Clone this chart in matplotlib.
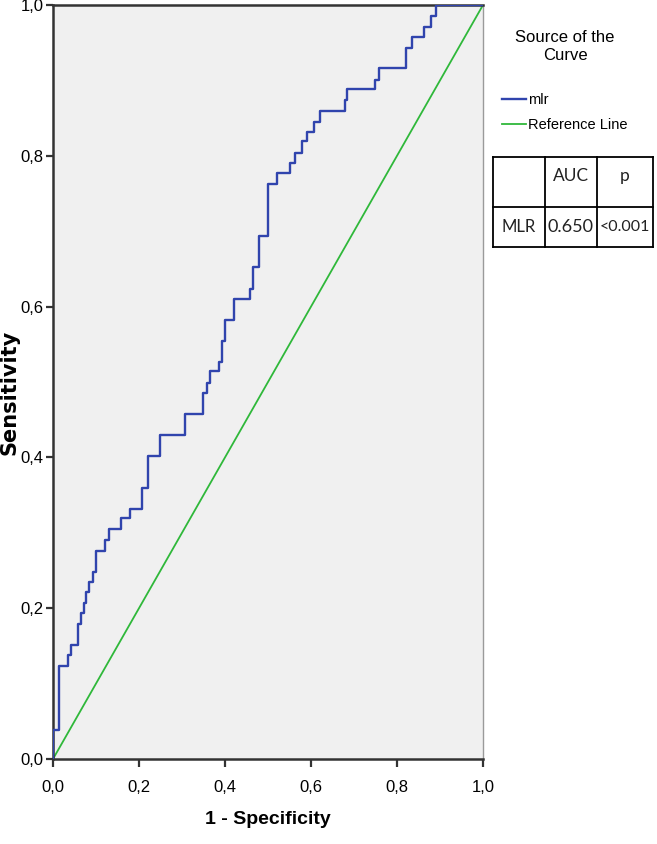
import matplotlib
matplotlib.use("Agg")
import matplotlib.pyplot as plt

# ROC points (1 - specificity, sensitivity)
fpr = [0.0, 0.0, 0.014, 0.036, 0.043, 0.057, 0.064, 0.071, 0.077, 0.084, 0.092,
       0.099, 0.121, 0.130, 0.157, 0.179, 0.206, 0.222, 0.249, 0.307, 0.350,
       0.357, 0.365, 0.386, 0.392, 0.400, 0.422, 0.458, 0.464, 0.479, 0.500,
       0.520, 0.550, 0.563, 0.578, 0.590, 0.607, 0.621, 0.679, 0.684, 0.749,
       0.757, 0.820, 0.836, 0.863, 0.878, 0.891, 1.0]
tpr = [0.0, 0.039, 0.124, 0.138, 0.151, 0.179, 0.193, 0.207, 0.221, 0.235, 0.248,
       0.276, 0.290, 0.305, 0.319, 0.332, 0.360, 0.402, 0.430, 0.458, 0.485,
       0.499, 0.514, 0.527, 0.555, 0.582, 0.610, 0.624, 0.652, 0.693, 0.763,
       0.777, 0.790, 0.804, 0.819, 0.832, 0.845, 0.859, 0.874, 0.888, 0.901,
       0.916, 0.943, 0.957, 0.971, 0.985, 1.0, 1.0]
ref_line = [0.0, 1.0]

ticks = [0.0, 0.2, 0.4, 0.6, 0.8, 1.0]
tick_labels = ["0,0", "0,2", "0,4", "0,6", "0,8", "1,0"]

table_header = ["", "AUC", "p"]
table_row = ["MLR", "0.650", "<0.001"]

W, H = 657, 844
fig = plt.figure(figsize=(W / 100, H / 100), dpi=100)
fig.patch.set_facecolor("white")

# narrow font if there is one, Arial-like otherwise
narrow = ["Liberation Sans Narrow", "DejaVu Sans Condensed", "Liberation Sans",
          "DejaVu Sans"]

ax = fig.add_axes([53 / W, (H - 759) / H, 430 / W, 754 / H])
ax.set_facecolor("#f0f0f0")
ax.plot(fpr, tpr, drawstyle="steps-post", color="#3044ad", lw=1.7, label="mlr",
        zorder=3)
ax.plot(ref_line, ref_line, color="#2fb83a", lw=1.3, label="Reference Line", zorder=2)
ax.set_xlim(0, 1)
ax.set_ylim(0, 1)
ax.set_xticks(ticks)
ax.set_yticks(ticks)
ax.set_xticklabels(tick_labels, family=narrow, fontsize=12)
ax.set_yticklabels(tick_labels, family=narrow, fontsize=12)
ax.tick_params(axis="x", length=6, width=1.6, color="#333333", pad=9)
ax.tick_params(axis="y", length=5, width=1.6, color="#333333", pad=2)

for side in ["left", "bottom", "top"]:
    ax.spines[side].set_color("#333333")
    ax.spines[side].set_linewidth(1.8)
ax.spines["right"].set_color("#9a9a9a")
ax.spines["right"].set_linewidth(1.0)

ax.set_xlabel("1 - Specificity", family=narrow, fontsize=14, fontweight="bold",
              labelpad=12)
fig.text(10 / W, 1 - 392 / H, "Sensitivity", rotation=90, ha="center", va="center",
         family="DejaVu Sans", fontsize=15, fontweight="bold")

leg = ax.legend(loc="upper left", bbox_to_anchor=(492 / W, 1 - 20 / H),
                bbox_transform=fig.transFigure, frameon=False,
                title="Source of the\nCurve", prop={"family": narrow, "size": 10.5},
                title_fontproperties={"family": narrow, "size": 12},
                handlelength=1.6, handletextpad=0.2, labelspacing=0.75,
                borderpad=0.2)
leg.get_title().set_multialignment("center")
leg._legend_box.sep = 22

# AUC table to the right of the plot
tab = fig.add_axes([493 / W, (H - 247) / H, 160 / W, 90 / H])
tab.set_xlim(493, 653)
tab.set_ylim(247, 157)
tab.axis("off")
col_edges = [493, 545, 597, 653]
row_edges = [157, 207, 247]
for x in col_edges:
    tab.plot([x, x], [row_edges[0], row_edges[-1]], color="black", lw=1.3,
             clip_on=False)
for y in row_edges:
    tab.plot([col_edges[0], col_edges[-1]], [y, y], color="black", lw=1.3,
             clip_on=False)
row_sizes = [[12, 12.5, 12.5], [12, 13, 11.5]]
for r, row in enumerate([table_header, table_row]):
    yc = (row_edges[r] + row_edges[r + 1]) / 2 - (6 if r == 0 else 0)
    for c, txt in enumerate(row):
        xc = (col_edges[c] + col_edges[c + 1]) / 2
        tab.text(xc, yc, txt, ha="center", va="center",
                 family=["Lato", "DejaVu Sans"], fontsize=row_sizes[r][c],
                 color="#222222")

fig.savefig("out.png", dpi=100)
